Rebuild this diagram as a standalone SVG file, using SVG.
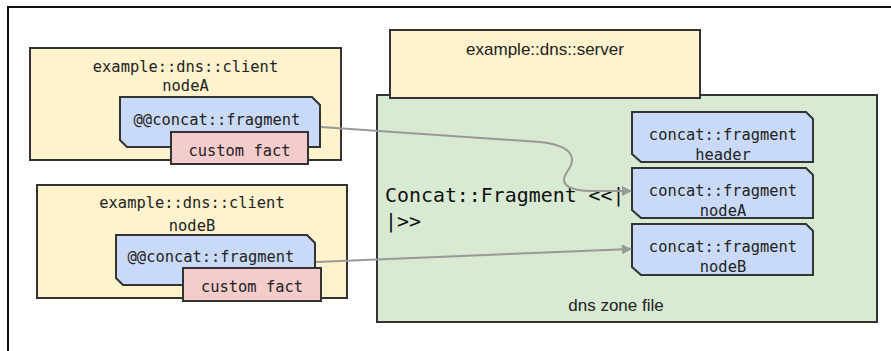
<svg xmlns="http://www.w3.org/2000/svg" width="891" height="351" viewBox="0 0 891 351">
<defs>
<style>
.frame{fill:none;stroke:#111;stroke-width:2}
.cls{fill:#fff2cc;stroke:#333;stroke-width:2}
.zone{fill:#d9ead3;stroke:#333;stroke-width:2}
.frag{fill:#c9daf8;stroke:#333;stroke-width:2;stroke-linejoin:miter}
.fact{fill:#f4cccc;stroke:#333;stroke-width:2}
.mono{font-family:"DejaVu Sans Mono","Liberation Mono",monospace;font-size:15.4px;fill:#222}
.big{font-family:"DejaVu Sans Mono","Liberation Mono",monospace;font-size:19.9px;fill:#111}
.sans{font-family:"Liberation Sans",Arial,sans-serif;font-size:17px;fill:#222}
.conn{fill:none;stroke:#999;stroke-width:2}
</style>
<marker id="arr" viewBox="0 0 10 10" refX="9" refY="5" markerWidth="6" markerHeight="5" markerUnits="strokeWidth" orient="auto">
<path d="M0,0 L10,5 L0,10 Z" fill="#999"/>
</marker>
</defs>
<path class="frame" d="M8,351 L8,7 L891,7"/>

<g id="server">
<rect class="zone" x="377" y="95" width="500" height="227"/>
<rect class="cls" x="390" y="30" width="310" height="68"/>
<text class="sans" x="545" y="55" text-anchor="middle">example::dns::server</text>
<text class="sans" x="616" y="311" text-anchor="middle">dns zone file</text>
<text class="big" x="385" y="202">Concat::Fragment &lt;&lt;|</text>
<text class="big" x="385" y="228">|&gt;&gt;</text>
</g>

<g id="clientA">
<rect class="cls" x="30" y="48" width="311" height="112"/>
<text class="mono" x="185.5" y="72" text-anchor="middle">example::dns::client</text>
<text class="mono" x="185.5" y="91" text-anchor="middle">nodeA</text>
</g>
<g id="fragA">
<path class="frag" d="M120,97 L312,97 L320,105 L320,147 L127,147 L120,140 Z"/>
<text class="mono" x="217" y="125" text-anchor="middle">@@concat::fragment</text>
</g>
<g id="factA">
<rect class="fact" x="171" y="132" width="137" height="32"/>
<text class="mono" x="239.5" y="156" text-anchor="middle">custom fact</text>
</g>

<g id="clientB">
<rect class="cls" x="37" y="185" width="310" height="113"/>
<text class="mono" x="192" y="208" text-anchor="middle">example::dns::client</text>
<text class="mono" x="192" y="231" text-anchor="middle">nodeB</text>
</g>
<g id="fragB">
<path class="frag" d="M116,235 L307,235 L315,243 L315,285 L123,285 L116,278 Z"/>
<text class="mono" x="211" y="262" text-anchor="middle">@@concat::fragment</text>
</g>
<g id="factB">
<rect class="fact" x="183" y="268" width="138" height="33"/>
<text class="mono" x="252" y="292" text-anchor="middle">custom fact</text>
</g>

<g id="fragHeader">
<path class="frag" d="M632,112 L806,112 L813,119 L813,162 L641,162 L632,154 Z"/>
<text class="mono" x="723" y="140" text-anchor="middle">concat::fragment</text>
<text class="mono" x="723" y="160" text-anchor="middle">header</text>
</g>
<g id="fragNodeA">
<path class="frag" d="M632,168 L806,168 L813,175 L813,218 L641,218 L632,210 Z"/>
<text class="mono" x="723" y="196" text-anchor="middle">concat::fragment</text>
<text class="mono" x="723" y="216" text-anchor="middle">nodeA</text>
</g>
<g id="fragNodeB">
<path class="frag" d="M632,224 L806,224 L813,231 L813,275 L641,275 L632,267 Z"/>
<text class="mono" x="723" y="252" text-anchor="middle">concat::fragment</text>
<text class="mono" x="723" y="272" text-anchor="middle">nodeB</text>
</g>

<g id="connectors">
<path class="conn" d="M321,127 L540,142 C576,146 576,160 567,172 C558,185 570,191 592,191 L631,191" marker-end="url(#arr)"/>
<path class="conn" d="M316,262 L631,249" marker-end="url(#arr)"/>
</g>
</svg>
